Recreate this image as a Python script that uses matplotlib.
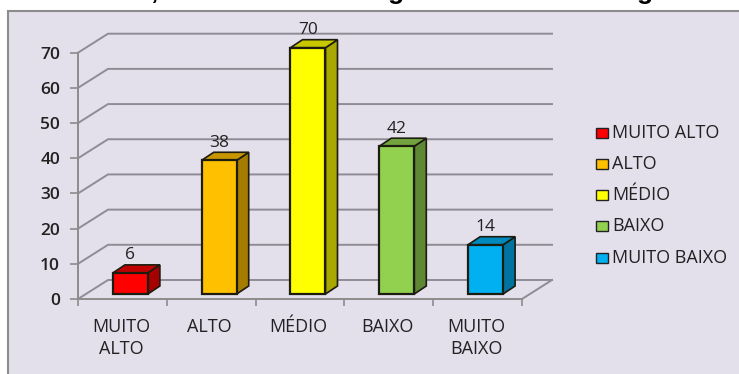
import matplotlib.pyplot as plt
from matplotlib.patches import Polygon, Rectangle

plt.rcParams['font.family'] = ['Open Sans', 'DejaVu Sans']

categories = ['MUITO\nALTO', 'ALTO', 'MÉDIO', 'BAIXO', 'MUITO\nBAIXO']
legend_labels = ['MUITO ALTO', 'ALTO', 'MÉDIO', 'BAIXO', 'MUITO BAIXO']
values = [6, 38, 70, 42, 14]
yticks = [0, 10, 20, 30, 40, 50, 60, 70]
front_colors = ['#ff0000', '#ffc000', '#ffff00', '#92d050', '#00b0f0']
top_colors = ['#c00000', '#c79600', '#c8c800', '#72a33e', '#0089bc']
side_colors = ['#a80000', '#a67c00', '#a8a800', '#5f8834', '#0073a0']
# only the descenders of the title are visible in the picture
title_bits = [(',', 154), ('g', 396), ('g', 645)]

W, H = 739, 374
fig = plt.figure(figsize=(W / 100, H / 100), dpi=100, facecolor='white')

# panel behind the chart
bg = fig.add_axes([0, 0, 1, 1])
bg.set_xlim(0, W)
bg.set_ylim(H, 0)
bg.axis('off')
bg.add_patch(Rectangle((8, 10.5), 740, 370, fc='#e3dfeb', ec='#8c8c8c', lw=1.5))
for s, px in title_bits:
    bg.text(px, -1.5, s, ha='center', va='baseline', fontsize=19, fontweight='bold',
            color='black', family=['Liberation Sans'])

# plot area, pixel box of the front floor edge
ax = fig.add_axes([78 / W, 1 - 299 / H, 444 / W, (299 - 52.7) / H])
ax.set_xlim(0, 5)
ax.set_ylim(0, 70)
ax.patch.set_alpha(0)
for s in ['top', 'right']:
    ax.spines[s].set_visible(False)
for s in ['left', 'bottom']:
    ax.spines[s].set_color('#8c8c8c')
    ax.spines[s].set_linewidth(1.4)

# depth of the fake 3d wall
dx = 30 / 88.8
dy = 19 / 3.517
grid = '#8f8c96'
for t in yticks:
    ax.plot([0, dx, 5 + dx], [t, t + dy, t + dy], color=grid, lw=1.4, clip_on=False, zorder=1)
ax.plot([5, 5 + dx], [0, dy], color=grid, lw=1.4, clip_on=False, zorder=1)

# bars sit partway into the floor
bar_w = 35 / 88.8
bdx = 12 / 88.8
bdy = 8 / 3.517
base = 5 / 3.517
for i, v in enumerate(values):
    x0 = i + 0.5 - 0.107
    x1 = x0 + bar_w
    top = v + base
    ec = '#1c1c10'
    ax.add_patch(Polygon([(x1, base), (x1 + bdx, base + bdy), (x1 + bdx, top + bdy), (x1, top)],
                         fc=side_colors[i], ec=ec, lw=1.2, clip_on=False, zorder=3))
    ax.add_patch(Polygon([(x0, top), (x1, top), (x1 + bdx, top + bdy), (x0 + bdx, top + bdy)],
                         fc=top_colors[i], ec=ec, lw=1.2, clip_on=False, zorder=3))
    ax.add_patch(Rectangle((x0, base), bar_w, top - base, fc=front_colors[i], ec=ec, lw=1.6,
                           clip_on=False, zorder=4))
    ax.text(x0 + bar_w / 2, top + bdy + 0.4, str(v), ha='center', va='bottom',
            fontsize=12.5, color='#222222', clip_on=False, zorder=5)

ax.set_yticks(yticks)
ax.set_xticks(range(6))
ax.set_xticklabels([])
ax.tick_params(axis='y', length=6, width=1.2, color='#8c8c8c', labelsize=12.5, labelcolor='#222222', pad=7)
ax.tick_params(axis='x', direction='out', length=5, width=1.2, color='#8c8c8c')
for label in ax.get_yticklabels():
    label.set_fontweight('semibold')
for i, c in enumerate(categories):
    ax.annotate(c, (i + 0.5, 0), xytext=(-1, -14), textcoords='offset points', ha='center', va='top',
                fontsize=13, color='#222222', linespacing=1.28, annotation_clip=False)

# legend drawn by hand to keep the spacing of the reference
leg_y = [132.5, 164, 195, 226, 258]
for y, lab, col in zip(leg_y, legend_labels, front_colors):
    bg.add_patch(Rectangle((596, y - 5), 12, 10, fc=col, ec='#222222', lw=1))
    bg.text(612, y, lab, ha='left', va='center', fontsize=13, color='#222222')

fig.savefig('out.png', dpi=100)
